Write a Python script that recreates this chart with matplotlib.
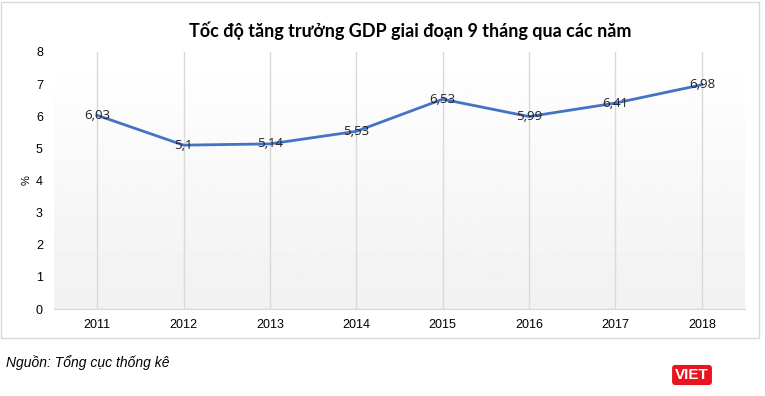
import numpy as np
import matplotlib.pyplot as plt
from matplotlib.patches import Rectangle

years = ["2011", "2012", "2013", "2014", "2015", "2016", "2017", "2018"]
growth = [6.03, 5.10, 5.14, 5.53, 6.53, 5.99, 6.41, 6.98]
labels = ["6,03", "5,1", "5,14", "5,53", "6,53", "5,99", "6,41", "6,98"]

fig = plt.figure(figsize=(7.65, 3.96), dpi=100)
ax = fig.add_axes([54 / 765, 1 - 309 / 396, 691 / 765, 257 / 396])

x = np.arange(len(years))

# gradient background of the plot area
grad = np.linspace(1.0, 0.945, 256).reshape(-1, 1)
ax.imshow(grad, cmap="gray", vmin=0, vmax=1, aspect="auto",
          extent=[0, 1, 0, 1], transform=ax.transAxes, zorder=0)

for xi in x:
    ax.axvline(xi, color="#d9d9d9", lw=1, zorder=1)

ax.plot(x, growth, color="#4472C4", lw=2, zorder=3)
for xi, v, lab in zip(x, growth, labels):
    ax.text(xi, v, lab, ha="center", va="center", fontsize=9.5,
            family="Open Sans", color="#222222", zorder=4)

ax.set_xlim(-0.5, len(years) - 0.5)
ax.set_ylim(0, 8)
ax.set_xticks(x)
ax.set_xticklabels(years, fontsize=9, family="Liberation Sans")
ax.set_yticks(range(0, 9))
ax.set_yticklabels([str(i) for i in range(9)], fontsize=9, family="Liberation Sans")
ax.tick_params(length=0, pad=8)
ax.tick_params(axis="x", pad=7)
for s in ["top", "right", "left"]:
    ax.spines[s].set_visible(False)
ax.spines["bottom"].set_color("#d9d9d9")
ax.set_ylabel("%", fontsize=8, family="Liberation Sans", labelpad=3)

fig.text(410 / 765, 1 - 31 / 396, "Tốc độ tăng trưởng GDP giai đoạn 9 tháng qua các năm",
         ha="center", va="center", fontsize=13, fontweight="bold", family="Lato")

# chart border
fig.patches.append(Rectangle((1 / 765, 1 - 338 / 396), 758 / 765, 336 / 396,
                             transform=fig.transFigure, fill=False,
                             edgecolor="#d9d9d9", lw=1))

fig.text(6 / 765, 1 - 363 / 396, "Nguồn: Tổng cục thống kê", ha="left", va="center",
         fontsize=10, style="italic", family="Liberation Sans")

fig.text(692 / 765, 1 - 375 / 396, "VIET", ha="center", va="center", fontsize=11,
         fontweight="bold", color="white", family="Liberation Sans",
         bbox=dict(boxstyle="round,pad=0.2", fc="#e8141f", ec="none"))

fig.savefig("out.png", dpi=100)
